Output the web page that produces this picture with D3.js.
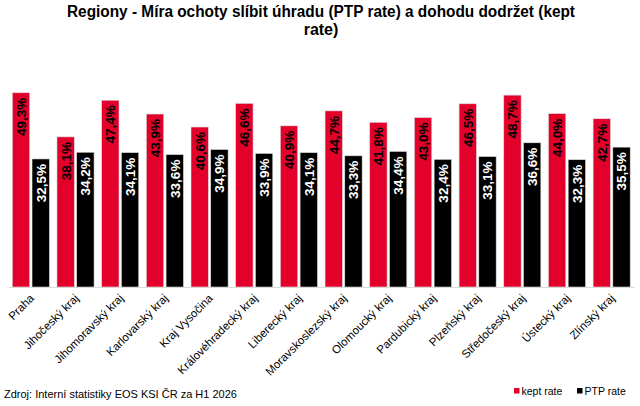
<!DOCTYPE html>
<html>
<head>
<meta charset="utf-8">
<script src="https://cdn.jsdelivr.net/npm/d3@7/dist/d3.min.js"></script>
<style>
  body { margin: 0; background: #fff; }
  svg { font-family: "Liberation Sans", Arial, sans-serif; }
</style>
</head>
<body>
<div id="chart"></div>
<script>
// data
var regions = ["Praha", "Jihočeský kraj", "Jihomoravský kraj", "Karlovarský kraj", "Kraj Vysočina",
    "Královéhradecký kraj", "Liberecký kraj", "Moravskoslezský kraj", "Olomoucký kraj",
    "Pardubický kraj", "Plzeňský kraj", "Středočeský kraj", "Ústecký kraj", "Zlínský kraj"];
var keptRate = [49.3, 38.1, 47.4, 43.9, 40.6, 46.6, 40.9, 44.7, 41.8, 43.0, 46.5, 48.7, 44.0, 42.7];
var ptpRate  = [32.5, 34.2, 34.1, 33.6, 34.9, 33.9, 34.1, 33.3, 34.4, 32.4, 33.1, 36.6, 32.3, 35.5];
var seriesNames = ["kept rate", "PTP rate"];
var yDomain = [0, 50];

var width = 640, height = 406;
var plot = {left: 8.5, right: 634, top: 90, bottom: 287};
var colors = {"kept rate": "#e3002b", "PTP rate": "#000000"};
var labelColors = {"kept rate": "#000000", "PTP rate": "#ffffff"};

var svg = d3.select('#chart')
    .append('svg')
        .attr('width', width)
        .attr('height', height);

var x0 = d3.scaleBand().domain(regions).range([plot.left, plot.right])
    .paddingInner(0.17).paddingOuter(0.085);
var x1 = d3.scaleBand().domain(seriesNames).range([0, x0.bandwidth()]).paddingInner(0.12);
var y = d3.scaleLinear().domain(yDomain).range([plot.bottom, plot.top]);

var rows = regions.map(function(r, i) {
    return {region: r, values: [
        {name: "kept rate", value: keptRate[i]},
        {name: "PTP rate", value: ptpRate[i]}
    ]};
});

var fmt = function(v) { return v.toFixed(1).replace('.', ',') + '%'; };

// title, two lines like the original wrap
var title = svg.append('text')
    .attr('text-anchor', 'middle')
    .style('font-weight', 'bold').style('font-size', '16px');
title.append('tspan')
    .attr('x', 321).attr('y', 17)
    .attr('textLength', 508).attr('lengthAdjust', 'spacingAndGlyphs')
    .text("Regiony - Míra ochoty slíbit úhradu (PTP rate) a dohodu dodržet (kept");
title.append('tspan')
    .attr('x', 321).attr('y', 35)
    .text("rate)");

var groups = svg.append('g').selectAll('g.group')
    .data(rows)
    .enter().append('g')
        .attr('class', 'group')
        .attr('transform', function(d) { return 'translate(' + x0(d.region) + ',0)'; });

groups.selectAll('rect')
    .data(function(d) { return d.values; })
    .enter().append('rect')
        .attr('x', function(d) { return x1(d.name); })
        .attr('y', function(d) { return y(d.value); })
        .attr('width', x1.bandwidth())
        .attr('height', function(d) { return y(0) - y(d.value); })
        .attr('fill', function(d) { return colors[d.name]; })
        .attr('stroke', '#d9d9d9')
        .attr('stroke-width', 0.6);

groups.selectAll('text.val')
    .data(function(d) { return d.values; })
    .enter().append('text')
        .attr('class', 'val')
        .attr('transform', function(d) {
            return 'translate(' + (x1(d.name) + x1.bandwidth() / 2) + ',' + (y(d.value) + 5) + ') rotate(-90)';
        })
        .attr('text-anchor', 'end')
        .attr('dy', '0.36em')
        .style('font-weight', 'bold').style('font-size', '13.5px')
        .attr('fill', function(d) { return labelColors[d.name]; })
        .text(function(d) { return fmt(d.value); });

// x axis
var axisX = d3.axisBottom(x0).tickSize(0).tickPadding(0);
var $x = svg.append('g')
    .attr('class', 'x axis')
    .attr('transform', 'translate(0,' + plot.bottom + ')')
    .call(axisX);
$x.select('.domain').attr('stroke', '#d9d9d9').attr('stroke-width', 1);
$x.selectAll('.tick text')
    .attr('text-anchor', 'end')
    .attr('y', 0).attr('dy', 0)
    .attr('transform', 'translate(4,12) rotate(-45)')
    .style('font-size', '11.5px')
    .style('font-family', '"Liberation Sans", Arial, sans-serif')
    .attr('fill', '#000');

// footer
svg.append('text')
    .attr('x', 4).attr('y', 398)
    .style('font-size', '11px')
    .text('Zdroj: Interní statistiky EOS KSI ČR za H1 2026');

// legend
var legendX = [514, 577];
var legend = svg.append('g').selectAll('g')
    .data(seriesNames)
    .enter().append('g')
        .attr('transform', function(d, i) { return 'translate(' + legendX[i] + ',388)'; });
legend.append('rect')
    .attr('width', 5.5).attr('height', 5.5)
    .attr('fill', function(d) { return colors[d]; });
legend.append('text')
    .attr('x', 7.5).attr('y', 6.5)
    .style('font-size', '10.5px')
    .text(function(d) { return d; });
</script>
</body>
</html>
